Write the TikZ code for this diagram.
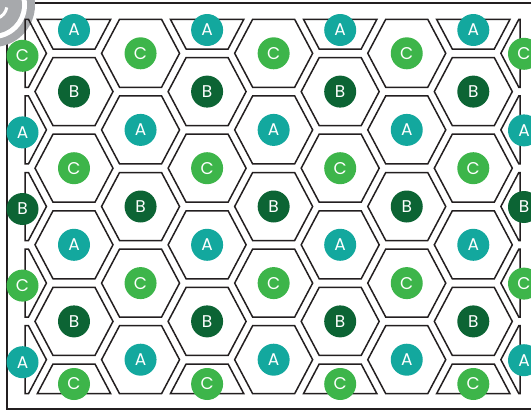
\documentclass[tikz,border=0pt]{standalone}
\usepackage{fontspec}
\setsansfont{Poppins}
\usepackage{tikz}

\definecolor{tealA}{HTML}{13A89E}
\definecolor{greenC}{HTML}{3DB54A}
\definecolor{darkB}{HTML}{0C6434}
\definecolor{ink}{HTML}{231F20}
\definecolor{logogray}{HTML}{A7A9AC}

\begin{document}
\begin{tikzpicture}[x=1pt, y=-1pt,
  hexline/.style={draw=ink, line width=1.5pt, line join=miter},
  every node/.style={circle, minimum size=32pt, inner sep=0pt, text=white, font=\sffamily\fontsize{17}{17}\selectfont}]
  \useasboundingbox (0,0) rectangle (531,415);
  \clip (0,0) rectangle (531,415);
  % frame and logo
  \draw[ink, line width=1.5pt] (7,3) rectangle (560,409);
  \fill[logogray] (-7,5) circle (42);
  \fill[white] (-7,5) circle (34);
  \fill[logogray] (-7,5) circle (29);
  \draw[white, line width=3pt] (-7,5) ++(10:14) arc (10:70:14);
  % odd columns: cut pieces at top and bottom, full cells between
  \foreach \c in {1,3,5,7} {
    \pgfmathsetmacro\x{74+66.55*(\c-1)}
    \draw[hexline] ({\x-36.7},19.3) -- ({\x+36.7},19.3) -- ({\x+21},49) -- ({\x-21},49) -- cycle;
    \draw[hexline] ({\x-21},364) -- ({\x+21},364) -- ({\x+36.7},393.7) -- ({\x-36.7},393.7) -- cycle;
    \foreach \r in {1,...,4} {
      \pgfmathsetmacro\y{15+76.6*\r}
      \draw[hexline] ({\x-39},\y) -- ({\x-21},{\y-34}) -- ({\x+21},{\y-34}) -- ({\x+39},\y)
        -- ({\x+21},{\y+34}) -- ({\x-21},{\y+34}) -- cycle;
    }
  }
  % even columns
  \foreach \c in {2,4,6} {
    \pgfmathsetmacro\x{74+66.55*(\c-1)}
    \foreach \r in {0,...,4} {
      \pgfmathsetmacro\y{53.3+76.6*\r}
      \draw[hexline] ({\x-39},\y) -- ({\x-21},{\y-34}) -- ({\x+21},{\y-34}) -- ({\x+39},\y)
        -- ({\x+21},{\y+34}) -- ({\x-21},{\y+34}) -- cycle;
    }
  }
  % half cells at the sides
  \foreach \r in {0,...,4} {
    \pgfmathsetmacro\y{53.3+76.6*\r}
    \draw[hexline] (25,{\y-34}) -- (28.45,{\y-34}) -- (46.45,\y) -- (28.45,{\y+34}) -- (25,{\y+34}) -- cycle;
    \draw[hexline] (520,{\y-34}) -- (518.85,{\y-34}) -- (500.85,\y) -- (518.85,{\y+34}) -- (520,{\y+34}) -- cycle;
  }
  % labels
  \foreach \c in {1,3,5,7} {
    \pgfmathsetmacro\x{74+66.55*(\c-1)}
    \node[fill=tealA] (top\c) at (\x,30) {A};
    \node[fill=greenC] (bot\c) at (\x,384) {C};
    \foreach \r/\l/\f in {1/B/darkB, 2/C/greenC, 3/A/tealA, 4/B/darkB} {
      \pgfmathsetmacro\y{15+76.6*\r}
      \node[fill=\f] (cell\c-\r) at (\x,\y) {\l};
    }
  }
  \foreach \r/\l/\f in {0/C/greenC, 1/A/tealA, 2/B/darkB, 3/C/greenC, 4/A/tealA} {
    \pgfmathsetmacro\y{53.3+76.6*\r}
    \foreach \c in {2,4,6} {
      \pgfmathsetmacro\x{74+66.55*(\c-1)}
      \node[fill=\f] (cell\c-\r) at (\x,\y) {\l};
    }
    \node[fill=\f] (left\r) at (22.5,{\y+2.5}) {\l};
    \node[fill=\f] (right\r) at (524,{\y+0.5}) {\l};
  }
\end{tikzpicture}
\end{document}
